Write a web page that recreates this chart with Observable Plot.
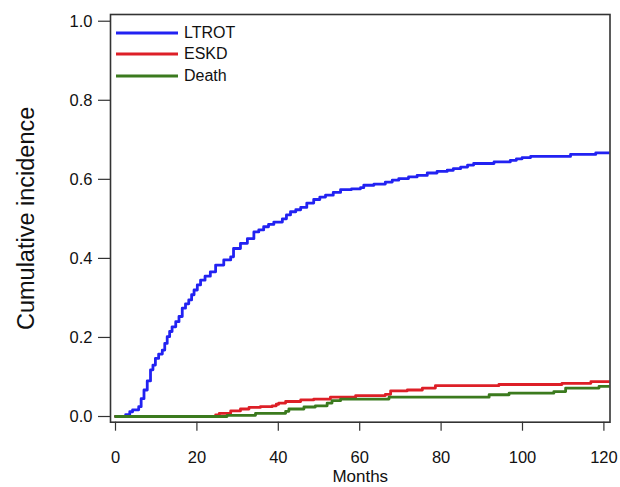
<!DOCTYPE html>
<html>
<head>
<meta charset="utf-8">
<script src="https://cdn.jsdelivr.net/npm/d3@7"></script>
<script src="https://cdn.jsdelivr.net/npm/@observablehq/plot@0.6"></script>
<style>
  html, body { margin: 0; padding: 0; background: #fff; }
  #wrap { position: relative; width: 620px; height: 487px; font-family: "Liberation Sans", Arial, sans-serif; }
  #legend { position: absolute; left: 116px; top: 22px; font-size: 16px; color: #111; }
  .item { display: flex; align-items: center; height: 21.5px; }
  .item svg { margin-right: 6px; }
</style>
</head>
<body>
<div id="wrap"><div id="legend"></div></div>
<script>
const seriesNames = ["LTROT", "ESKD", "Death"];
const seriesColors = ["#2222f2", "#dd1f27", "#3b7a1e"];

const ltrotMonths = [0, 2.5, 3.5, 4.2, 5.7, 6.3, 7, 7.8, 8.6, 9.2, 9.8, 10.6, 11.5, 12.1, 12.7, 13.3, 13.9, 14.8, 15.6, 16.4, 17.2, 18, 18.7, 19.3, 20.1, 20.9, 22, 23.3, 24.6, 26.6, 28.3, 29, 30.7, 32.4, 34, 35.2, 36.4, 37.6, 38.9, 41, 42, 43, 44.3, 45.5, 47, 48.7, 50.2, 51.6, 53.5, 55.3, 58, 60.2, 61, 63.5, 66.3, 68, 69.6, 72, 74.1, 76.6, 79, 81.5, 83, 84.8, 86.5, 88, 93, 97, 98.5, 99.9, 102, 111.8, 118, 121.5];
const ltrotValues = [0, 0.005, 0.012, 0.017, 0.025, 0.045, 0.067, 0.09, 0.118, 0.13, 0.147, 0.158, 0.168, 0.185, 0.202, 0.215, 0.227, 0.24, 0.253, 0.274, 0.285, 0.295, 0.308, 0.32, 0.333, 0.345, 0.355, 0.366, 0.383, 0.396, 0.404, 0.425, 0.438, 0.45, 0.467, 0.472, 0.48, 0.486, 0.492, 0.5, 0.51, 0.518, 0.523, 0.529, 0.54, 0.549, 0.555, 0.56, 0.567, 0.574, 0.576, 0.579, 0.585, 0.588, 0.593, 0.598, 0.602, 0.606, 0.61, 0.616, 0.62, 0.623, 0.627, 0.631, 0.636, 0.64, 0.644, 0.648, 0.652, 0.655, 0.658, 0.663, 0.667, 0.667];

const eskdMonths = [0, 24.6, 25.5, 28.3, 30.7, 32.8, 35.6, 38.5, 39.5, 40.1, 41.8, 45.5, 48.7, 52.8, 59, 66.3, 67.6, 71.7, 75.4, 78.6, 94.2, 109.7, 116.8, 121.5];
const eskdValues = [0, 0.004, 0.008, 0.014, 0.019, 0.023, 0.025, 0.027, 0.031, 0.034, 0.038, 0.042, 0.044, 0.049, 0.053, 0.056, 0.065, 0.067, 0.072, 0.078, 0.081, 0.084, 0.088, 0.088];

const deathMonths = [0, 27.4, 34.4, 41.8, 42.6, 46.3, 49.1, 52, 53.2, 55.3, 67.2, 91.8, 96.7, 107.7, 110.6, 118.8, 121.5];
const deathValues = [0, 0.003, 0.008, 0.013, 0.019, 0.024, 0.027, 0.034, 0.04, 0.044, 0.049, 0.055, 0.059, 0.063, 0.072, 0.076, 0.076];

const xTicks = [0, 20, 40, 60, 80, 100, 120];
const yTicks = [0, 0.2, 0.4, 0.6, 0.8, 1.0];

const toRows = (name, ms, vs) => ms.map((m, i) => ({series: name, month: m, value: vs[i]}));
const rows = [
  ...toRows("LTROT", ltrotMonths, ltrotValues),
  ...toRows("ESKD", eskdMonths, eskdValues),
  ...toRows("Death", deathMonths, deathValues)
];

const chart = Plot.plot({
  width: 620,
  height: 487,
  marginLeft: 110,
  marginRight: 10.5,
  marginTop: 14,
  marginBottom: 65.3,
  style: {fontFamily: "'Liberation Sans', Arial, sans-serif", fontSize: "16px", color: "#111", background: "#fff"},
  x: {domain: [-1.23, 121.5]},
  y: {domain: [-0.0144, 1.017]},
  color: {domain: seriesNames, range: seriesColors},
  marks: [
    Plot.line(rows, {x: "month", y: "value", z: "series", stroke: "series", strokeWidth: 2.8, curve: "step-after", clip: true}),
    Plot.frame({stroke: "#333", strokeWidth: 1.6}),
    Plot.axisX(xTicks, {tickSize: 9, tickPadding: 20, label: null, fontSize: 16.5, stroke: "#333", strokeWidth: 1.2}),
    Plot.axisY(yTicks, {tickSize: 12, tickPadding: 6, label: null, fontSize: 16.5, tickFormat: d3.format(".1f"), stroke: "#333", strokeWidth: 1.2}),
    Plot.text(["Months"], {frameAnchor: "bottom", dy: 54.5, lineAnchor: "middle", fontSize: 17}),
    Plot.text(["Cumulative incidence"], {frameAnchor: "left", dx: -84, rotate: -90, textAnchor: "middle", lineAnchor: "middle", fontSize: 23.5})
  ]
});
document.getElementById("wrap").prepend(chart);

const legend = document.getElementById("legend");
seriesNames.forEach((name, i) => {
  const item = document.createElement("div");
  item.className = "item";
  item.innerHTML = `<svg width="62" height="6"><line x1="0" x2="62" y1="3" y2="3" stroke="${seriesColors[i]}" stroke-width="2.8"/></svg><span>${name}</span>`;
  legend.appendChild(item);
});
</script>
</body>
</html>
